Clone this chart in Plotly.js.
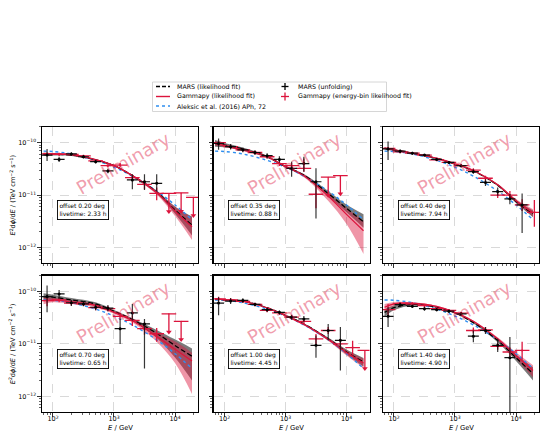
<!DOCTYPE html>
<html><head><meta charset="utf-8">
<script src="https://cdn.plot.ly/plotly-3.0.1.min.js"></script>
<style>html,body{margin:0;padding:0;background:#fff}#chart{width:540px;height:431px}</style>
</head><body><div id="chart"></div>
<script>
// ---------------- DATA ----------------
const E_FIT = [70, 100, 200, 500, 1000, 2000, 5000, 10000, 19000];            // GeV
const E_BIN = [80, 126, 200, 316, 500, 795, 1260, 2000, 3160, 5010, 7940, 12600, 20000];
const OFFSETS = ['0.20', '0.35', '0.40', '0.70', '1.00', '1.40'];
const LIVETIMES = ['2.33', '0.88', '7.94', '0.65', '4.45', '4.90'];
const ALEKSIC = [6.9e-11, 6.8e-11, 6.1e-11, 4.6e-11, 3.4e-11, 2.3e-11, 1.2e-11, 6.5e-12, 3.4e-12];

// panel 1 : offset 0.20 deg
const MARS_1    = [6.0e-11, 6.0e-11, 5.8e-11, 4.7e-11, 3.65e-11, 2.35e-11, 1.15e-11, 5.2e-12, 2.7e-12];
const MARS_LO_1 = [5.6e-11, 5.7e-11, 5.6e-11, 4.55e-11, 3.55e-11, 2.27e-11, 1.07e-11, 4.4e-12, 1.7e-12];
const MARS_HI_1 = [6.4e-11, 6.3e-11, 6.0e-11, 4.85e-11, 3.75e-11, 2.43e-11, 1.23e-11, 6.1e-12, 3.9e-12];
const GP_1      = [6.1e-11, 6.1e-11, 5.9e-11, 4.75e-11, 3.65e-11, 2.35e-11, 1.12e-11, 5.0e-12, 2.5e-12];
const GP_LO_1   = [5.8e-11, 5.85e-11, 5.7e-11, 4.6e-11, 3.55e-11, 2.25e-11, 1.03e-11, 4.0e-12, 1.4e-12];
const GP_HI_1   = [6.4e-11, 6.35e-11, 6.1e-11, 4.9e-11, 3.75e-11, 2.45e-11, 1.2e-11, 6.0e-12, 3.8e-12];
const BK_E_1  = [80, 126, 200, 316, 500, 795, 2000, 3160, 5010];
const BK_1    = [5.8e-11, 4.8e-11, 6.1e-11, 5.4e-11, 4.35e-11, 2.9e-11, 1.95e-11, 1.8e-11, 1.68e-11];
const BK_LO_1 = [4.5e-11, 4.3e-11, 5.6e-11, 5.0e-11, 4.0e-11, 2.6e-11, 1.3e-11, 1.25e-11, 1.17e-11];
const BK_HI_1 = [7.6e-11, 5.4e-11, 6.6e-11, 5.8e-11, 4.75e-11, 3.2e-11, 2.5e-11, 2.5e-11, 2.5e-11];
const RD_1    = [6.1e-11, 6.0e-11, 6.0e-11, 5.6e-11, 4.5e-11, 3.65e-11, 3.75e-11, 2.15e-11, 1.6e-11, 1.08e-11];
const RD_LO_1 = [5.7e-11, 5.6e-11, 5.7e-11, 5.3e-11, 4.2e-11, 3.35e-11, 3.4e-11, 1.85e-11, 1.3e-11, 8.0e-12];
const RD_HI_1 = [6.5e-11, 6.4e-11, 6.3e-11, 5.9e-11, 4.8e-11, 3.95e-11, 4.1e-11, 2.45e-11, 1.9e-11, 1.4e-11];
const UL_E_1 = [7940, 12600, 20000];
const UL_1   = [1.08e-11, 1.1e-11, 9.1e-12];

// panel 2 : offset 0.35 deg
const MARS_2    = [9.7e-11, 9.0e-11, 7.6e-11, 5.4e-11, 3.5e-11, 2.4e-11, 1.08e-11, 5.6e-12, 3.1e-12];
const MARS_LO_2 = [8.4e-11, 8.2e-11, 7.1e-11, 5.15e-11, 3.35e-11, 2.28e-11, 9.6e-12, 4.7e-12, 2.4e-12];
const MARS_HI_2 = [1.12e-10, 9.9e-11, 8.1e-11, 5.65e-11, 3.65e-11, 2.52e-11, 1.2e-11, 6.6e-12, 4.3e-12];
const GP_2      = [9.7e-11, 8.8e-11, 7.3e-11, 5.4e-11, 3.5e-11, 2.35e-11, 9.6e-12, 4.3e-12, 2.1e-12];
const GP_LO_2   = [8.8e-11, 8.3e-11, 6.9e-11, 5.15e-11, 3.35e-11, 2.2e-11, 7.8e-12, 2.8e-12, 7.5e-13];
const GP_HI_2   = [1.07e-10, 9.3e-11, 7.7e-11, 5.65e-11, 3.65e-11, 2.5e-11, 1.08e-11, 5.6e-12, 3.2e-12];
const BK_E_2  = [80, 126, 200, 316, 500, 795, 1260, 2000, 3160];
const BK_2    = [9.7e-11, 8.4e-11, 7.3e-11, 6.5e-11, 5.65e-11, 4.8e-11, 3.25e-11, 4.0e-11, 1.8e-11];
const BK_LO_2 = [7.3e-11, 7.4e-11, 6.6e-11, 5.8e-11, 5.0e-11, 4.2e-11, 2.25e-11, 2.8e-11, 3.6e-12];
const BK_HI_2 = [1.2e-10, 9.4e-11, 8.0e-11, 7.2e-11, 6.3e-11, 5.5e-11, 4.35e-11, 5.4e-11, 3.25e-11];
const RD_2    = [1.0e-10, 8.4e-11, 7.3e-11, 6.5e-11, 5.4e-11, 4.0e-11, 3.65e-11, 3.25e-11, 1.04e-11];
const RD_LO_2 = [9.0e-11, 7.7e-11, 6.8e-11, 6.0e-11, 5.0e-11, 3.6e-11, 3.2e-11, 2.8e-11, 5.6e-12];
const RD_HI_2 = [1.1e-10, 9.1e-11, 7.8e-11, 7.0e-11, 5.8e-11, 4.4e-11, 4.1e-11, 5.0e-11, 1.68e-11];
const UL_E_2 = [5010, 7940];
const UL_2   = [2.2e-11, 2.35e-11];

// panel 3 : offset 0.40 deg
const MARS_3    = [7.8e-11, 7.25e-11, 6.3e-11, 5.0e-11, 3.9e-11, 2.9e-11, 1.55e-11, 7.6e-12, 4.4e-12];
const MARS_LO_3 = [7.5e-11, 7.0e-11, 6.15e-11, 4.9e-11, 3.82e-11, 2.83e-11, 1.49e-11, 7.1e-12, 3.8e-12];
const MARS_HI_3 = [8.1e-11, 7.5e-11, 6.45e-11, 5.1e-11, 3.98e-11, 2.97e-11, 1.61e-11, 8.1e-12, 5.1e-12];
const GP_3      = [7.9e-11, 7.3e-11, 6.35e-11, 5.05e-11, 3.95e-11, 2.95e-11, 1.58e-11, 7.8e-12, 4.6e-12];
const GP_LO_3   = [7.6e-11, 7.05e-11, 6.2e-11, 4.95e-11, 3.87e-11, 2.88e-11, 1.52e-11, 7.2e-12, 3.9e-12];
const GP_HI_3   = [8.2e-11, 7.55e-11, 6.5e-11, 5.15e-11, 4.03e-11, 3.02e-11, 1.64e-11, 8.4e-12, 5.4e-12];
const BK_E_3  = [80, 126, 200, 316, 500, 795, 1260, 2000, 3160, 5010, 7940, 12600];
const BK_3    = [7.6e-11, 6.9e-11, 6.3e-11, 5.8e-11, 4.8e-11, 4.2e-11, 3.65e-11, 2.8e-11, 1.75e-11, 1.17e-11, 8.5e-12, 6.5e-12];
const BK_LO_3 = [4.7e-11, 6.3e-11, 5.9e-11, 5.5e-11, 4.5e-11, 3.95e-11, 3.4e-11, 2.55e-11, 1.5e-11, 9.7e-12, 6.7e-12, 1.9e-12];
const BK_HI_3 = [1.05e-10, 7.5e-11, 6.7e-11, 6.1e-11, 5.1e-11, 4.45e-11, 3.9e-11, 3.1e-11, 2.0e-11, 1.4e-11, 1.05e-11, 1.08e-11];
const RD_3    = [7.8e-11, 6.7e-11, 6.3e-11, 5.8e-11, 4.7e-11, 4.2e-11, 3.65e-11, 3.0e-11, 2.1e-11, 1.0e-11, 1.0e-11, 6.5e-12, 4.7e-12];
const RD_LO_3 = [7.3e-11, 6.3e-11, 6.0e-11, 5.5e-11, 4.45e-11, 3.95e-11, 3.4e-11, 2.75e-11, 1.85e-11, 8.8e-12, 8.2e-12, 5.0e-12, 2.5e-12];
const RD_HI_3 = [8.3e-11, 7.1e-11, 6.6e-11, 6.1e-11, 4.95e-11, 4.45e-11, 3.9e-11, 3.25e-11, 2.35e-11, 1.14e-11, 1.2e-11, 8.3e-12, 8.1e-12];
const UL_E_3 = [];
const UL_3   = [];

// panel 4 : offset 0.70 deg
const MARS_4    = [8.0e-11, 7.8e-11, 6.9e-11, 5.8e-11, 4.2e-11, 2.9e-11, 1.6e-11, 9.3e-12, 5.8e-12];
const MARS_LO_4 = [6.8e-11, 7.0e-11, 6.4e-11, 5.45e-11, 3.95e-11, 2.7e-11, 1.3e-11, 5.5e-12, 2.0e-12];
const MARS_HI_4 = [9.3e-11, 8.7e-11, 7.5e-11, 6.2e-11, 4.45e-11, 3.1e-11, 1.85e-11, 1.22e-11, 8.2e-12];
const GP_4      = [6.7e-11, 6.9e-11, 6.3e-11, 5.4e-11, 4.0e-11, 2.8e-11, 1.39e-11, 7.9e-12, 4.7e-12];
const GP_LO_4   = [5.7e-11, 6.2e-11, 5.8e-11, 5.0e-11, 3.75e-11, 2.55e-11, 1.1e-11, 4.3e-12, 1.1e-12];
const GP_HI_4   = [7.8e-11, 7.6e-11, 6.8e-11, 5.8e-11, 4.25e-11, 3.05e-11, 1.65e-11, 1.12e-11, 6.8e-12];
const BK_E_4  = [80, 126, 200, 316, 500, 795, 1260, 2000, 3160];
const BK_4    = [8.0e-11, 9.0e-11, 6.1e-11, 5.8e-11, 5.0e-11, 4.8e-11, 1.95e-11, 3.9e-11, 2.4e-11];
const BK_LO_4 = [4.0e-11, 7.2e-11, 5.3e-11, 5.2e-11, 4.4e-11, 4.2e-11, 1.0e-11, 2.8e-11, 3.4e-12];
const BK_HI_4 = [1.3e-10, 1.07e-10, 6.9e-11, 6.5e-11, 5.7e-11, 5.5e-11, 3.0e-11, 5.8e-11, 3.0e-11];
const RD_4    = [6.7e-11, 6.9e-11, 6.0e-11, 5.8e-11, 4.9e-11, 4.7e-11, 3.35e-11, 2.8e-11, 1.95e-11, 1.56e-11];
const RD_LO_4 = [5.2e-11, 6.2e-11, 5.4e-11, 5.3e-11, 4.4e-11, 4.2e-11, 2.9e-11, 2.2e-11, 1.5e-11, 1.1e-11];
const RD_HI_4 = [8.0e-11, 7.6e-11, 6.7e-11, 6.3e-11, 5.5e-11, 5.3e-11, 3.85e-11, 3.5e-11, 2.55e-11, 2.0e-11];
const UL_E_4 = [7940, 12600];
const UL_4   = [3.75e-11, 2.7e-11];

// panel 5 : offset 1.00 deg
const MARS_5    = [7.25e-11, 6.9e-11, 6.55e-11, 4.9e-11, 3.5e-11, 2.4e-11, 1.25e-11, 7.0e-12, 4.5e-12];
const MARS_LO_5 = [7.0e-11, 6.7e-11, 6.4e-11, 4.8e-11, 3.42e-11, 2.33e-11, 1.18e-11, 6.3e-12, 3.7e-12];
const MARS_HI_5 = [7.5e-11, 7.1e-11, 6.7e-11, 5.0e-11, 3.58e-11, 2.47e-11, 1.32e-11, 7.8e-12, 5.4e-12];
const GP_5      = [7.3e-11, 6.95e-11, 6.5e-11, 4.85e-11, 3.45e-11, 2.35e-11, 1.22e-11, 6.8e-12, 4.3e-12];
const GP_LO_5   = [7.05e-11, 6.75e-11, 6.35e-11, 4.75e-11, 3.37e-11, 2.28e-11, 1.15e-11, 6.0e-12, 3.5e-12];
const GP_HI_5   = [7.55e-11, 7.15e-11, 6.65e-11, 4.95e-11, 3.53e-11, 2.42e-11, 1.29e-11, 7.6e-12, 5.2e-12];
const BK_E_5  = [80, 126, 200, 316, 500, 795, 1260, 2000, 3160, 5010, 7940];
const BK_5    = [6.0e-11, 6.55e-11, 6.75e-11, 5.65e-11, 4.5e-11, 4.0e-11, 3.25e-11, 3.0e-11, 9.4e-12, 1.8e-11, 1.17e-11];
const BK_LO_5 = [3.5e-11, 5.8e-11, 6.1e-11, 5.2e-11, 4.1e-11, 3.65e-11, 2.9e-11, 2.65e-11, 5.45e-12, 1.17e-11, 3.1e-12];
const BK_HI_5 = [7.8e-11, 7.4e-11, 7.4e-11, 6.1e-11, 4.9e-11, 4.35e-11, 3.6e-11, 3.4e-11, 1.45e-11, 2.4e-11, 2.1e-11];
const RD_5    = [7.25e-11, 6.9e-11, 6.45e-11, 5.65e-11, 4.35e-11, 3.9e-11, 3.25e-11, 2.7e-11, 1.25e-11, 1.8e-11, 1.0e-11, 8.5e-12];
const RD_LO_5 = [6.6e-11, 6.3e-11, 6.0e-11, 5.25e-11, 4.0e-11, 3.6e-11, 3.0e-11, 2.4e-11, 1.0e-11, 1.55e-11, 8.0e-12, 6.0e-12];
const RD_HI_5 = [7.9e-11, 7.5e-11, 6.9e-11, 6.1e-11, 4.7e-11, 4.2e-11, 3.5e-11, 3.05e-11, 1.55e-11, 2.1e-11, 1.25e-11, 1.15e-11];
const UL_E_5 = [20000];
const UL_5   = [7.5e-12];

// panel 6 : offset 1.40 deg
const MARS_6    = [4.0e-11, 4.9e-11, 5.65e-11, 5.0e-11, 3.9e-11, 2.55e-11, 1.17e-11, 5.45e-12, 2.7e-12];
const MARS_LO_6 = [3.3e-11, 4.4e-11, 5.35e-11, 4.85e-11, 3.78e-11, 2.45e-11, 1.08e-11, 4.7e-12, 2.0e-12];
const MARS_HI_6 = [4.6e-11, 5.4e-11, 5.95e-11, 5.15e-11, 4.02e-11, 2.65e-11, 1.26e-11, 6.3e-12, 3.6e-12];
const GP_6      = [5.0e-11, 5.8e-11, 6.0e-11, 5.2e-11, 4.0e-11, 2.7e-11, 1.25e-11, 6.0e-12, 3.1e-12];
const GP_LO_6   = [4.35e-11, 5.3e-11, 5.75e-11, 5.05e-11, 3.9e-11, 2.6e-11, 1.16e-11, 5.2e-12, 2.3e-12];
const GP_HI_6   = [5.8e-11, 6.3e-11, 6.25e-11, 5.35e-11, 4.1e-11, 2.8e-11, 1.34e-11, 6.9e-12, 3.9e-12];
const BK_E_6  = [80, 126, 200, 316, 500, 795, 1260, 2000, 3160, 5010, 7940];
const BK_6    = [3.35e-11, 5.6e-11, 5.2e-11, 4.7e-11, 4.5e-11, 4.2e-11, 3.75e-11, 1.4e-11, 1.8e-11, 9.4e-12, 5.45e-12];
const BK_LO_6 = [2.1e-11, 5.1e-11, 4.85e-11, 4.3e-11, 4.2e-11, 3.9e-11, 3.45e-11, 1.08e-11, 1.55e-11, 7.0e-12, 3e-13];
const BK_HI_6 = [5.0e-11, 6.1e-11, 5.6e-11, 5.1e-11, 4.8e-11, 4.5e-11, 4.05e-11, 1.8e-11, 2.1e-11, 1.25e-11, 1.35e-11];
const RD_6    = [4.5e-11, 5.8e-11, 5.8e-11, 5.4e-11, 4.7e-11, 4.35e-11, 3.85e-11, 1.8e-11, 1.85e-11, 9.0e-12, 7.0e-12, 7.5e-12];
const RD_LO_6 = [3.5e-11, 5.4e-11, 5.4e-11, 5.0e-11, 4.4e-11, 4.05e-11, 3.6e-11, 1.6e-11, 1.65e-11, 7.7e-12, 5.8e-12, 5.0e-12];
const RD_HI_6 = [5.8e-11, 6.2e-11, 6.2e-11, 5.8e-11, 5.0e-11, 4.65e-11, 4.1e-11, 2.05e-11, 2.1e-11, 1.05e-11, 8.5e-12, 1.1e-11];
const UL_E_6 = [];
const UL_6   = [];

const X_TICKS = [100, 1000, 10000];
const X_TICKTEXT = ['10<sup>2</sup>', '10<sup>3</sup>', '10<sup>4</sup>'];
const Y_TICKS = [1e-12, 1e-11, 1e-10];
const Y_TICKTEXT = ['10<sup>−12</sup>', '10<sup>−11</sup>', '10<sup>−10</sup>'];
const LEGEND_LABELS = ['MARS (likelihood fit)', 'Gammapy (likelihood fit)', 'Aleksic et al. (2016) APh, 72',
                       'MARS (unfolding)', 'Gammapy (energy-bin likelihood fit)'];

// ---------------- BUILD ----------------
const PANELS = [
  {mars: MARS_1, mLo: MARS_LO_1, mHi: MARS_HI_1, gp: GP_1, gLo: GP_LO_1, gHi: GP_HI_1, bkE: BK_E_1, bk: BK_1, bkLo: BK_LO_1, bkHi: BK_HI_1, rd: RD_1, rdLo: RD_LO_1, rdHi: RD_HI_1, ulE: UL_E_1, ul: UL_1},
  {mars: MARS_2, mLo: MARS_LO_2, mHi: MARS_HI_2, gp: GP_2, gLo: GP_LO_2, gHi: GP_HI_2, bkE: BK_E_2, bk: BK_2, bkLo: BK_LO_2, bkHi: BK_HI_2, rd: RD_2, rdLo: RD_LO_2, rdHi: RD_HI_2, ulE: UL_E_2, ul: UL_2},
  {mars: MARS_3, mLo: MARS_LO_3, mHi: MARS_HI_3, gp: GP_3, gLo: GP_LO_3, gHi: GP_HI_3, bkE: BK_E_3, bk: BK_3, bkLo: BK_LO_3, bkHi: BK_HI_3, rd: RD_3, rdLo: RD_LO_3, rdHi: RD_HI_3, ulE: UL_E_3, ul: UL_3},
  {mars: MARS_4, mLo: MARS_LO_4, mHi: MARS_HI_4, gp: GP_4, gLo: GP_LO_4, gHi: GP_HI_4, bkE: BK_E_4, bk: BK_4, bkLo: BK_LO_4, bkHi: BK_HI_4, rd: RD_4, rdLo: RD_LO_4, rdHi: RD_HI_4, ulE: UL_E_4, ul: UL_4},
  {mars: MARS_5, mLo: MARS_LO_5, mHi: MARS_HI_5, gp: GP_5, gLo: GP_LO_5, gHi: GP_HI_5, bkE: BK_E_5, bk: BK_5, bkLo: BK_LO_5, bkHi: BK_HI_5, rd: RD_5, rdLo: RD_LO_5, rdHi: RD_HI_5, ulE: UL_E_5, ul: UL_5},
  {mars: MARS_6, mLo: MARS_LO_6, mHi: MARS_HI_6, gp: GP_6, gLo: GP_LO_6, gHi: GP_HI_6, bkE: BK_E_6, bk: BK_6, bkLo: BK_LO_6, bkHi: BK_HI_6, rd: RD_6, rdLo: RD_LO_6, rdHi: RD_HI_6, ulE: UL_E_6, ul: UL_6},
];

const W = 540, H = 431;
const FONT = 'DejaVu Sans, Liberation Sans, sans-serif';
const CRIMSON = '#dc143c';
const BLUE = '#2f8ff0';
const COL_PX = [[42, 198], [213.5, 369.5], [383, 539]];
const ROW_PX = [[126.7, 263.3], [275.5, 412]];
const px = x => x / W;
const py = y => 1 - y / H;
const BK_HW = 0.09, RD_HW = 0.12, UL_DROP = 0.45;

const minorVals = (lo, hi) => { const v = []; for (let d = lo; d <= hi; d++) for (let m = 2; m <= 9; m++) v.push(m * Math.pow(10, d)); return v; };
const MINOR_X = minorVals(1, 4), MINOR_Y = minorVals(-13, -10);

const traces = [];
const layout = {
  width: W, height: H, margin: {l: 0, r: 0, t: 0, b: 0},
  paper_bgcolor: '#fff', plot_bgcolor: '#fff', showlegend: false,
  font: {family: FONT, size: 6.5, color: '#000'},
  annotations: [], shapes: []
};

const xErr = (E, hw, color, th) => ({type: 'data', symmetric: false,
  array: E.map(e => e * (Math.pow(10, hw) - 1)), arrayminus: E.map(e => e * (1 - Math.pow(10, -hw))),
  color: color, thickness: th, width: 0});
const yErr = (v, lo, hi, color, th) => ({type: 'data', symmetric: false,
  array: v.map((y, i) => hi[i] - y), arrayminus: v.map((y, i) => y - lo[i]),
  color: color, thickness: th, width: 0});

PANELS.forEach((p, i) => {
  const r = Math.floor(i / 3), c = i % 3;
  const sfx = i ? String(i + 1) : '';
  const xa = 'x' + sfx, ya = 'y' + sfx;
  const base = {xaxis: xa, yaxis: ya, hoverinfo: 'skip', showlegend: false};
  const sp = {shape: 'spline', smoothing: 1};

  traces.push({...base, x: E_FIT, y: p.mLo, mode: 'lines', line: {...sp, width: 0}});
  traces.push({...base, x: E_FIT, y: p.mHi, mode: 'lines', line: {...sp, width: 0}, fill: 'tonexty', fillcolor: 'rgba(0,0,0,0.52)'});
  traces.push({...base, x: E_FIT, y: p.gLo, mode: 'lines', line: {...sp, width: 0}});
  traces.push({...base, x: E_FIT, y: p.gHi, mode: 'lines', line: {...sp, width: 0}, fill: 'tonexty', fillcolor: 'rgba(220,20,60,0.45)'});
  traces.push({...base, x: E_FIT, y: ALEKSIC, mode: 'lines', line: {...sp, color: BLUE, width: 1.4, dash: 'dot'}});
  traces.push({...base, x: E_FIT, y: p.mars, mode: 'lines', line: {...sp, color: '#000', width: 1.3, dash: '5px,2.5px'}});
  traces.push({...base, x: E_FIT, y: p.gp, mode: 'lines', line: {...sp, color: CRIMSON, width: 1.3}});

  const rdE = E_BIN.slice(0, p.rd.length);
  traces.push({...base, x: rdE, y: p.rd, mode: 'markers', marker: {size: 2, color: CRIMSON},
    error_x: xErr(rdE, RD_HW, CRIMSON, 1.3), error_y: yErr(p.rd, p.rdLo, p.rdHi, CRIMSON, 1.3)});
  if (p.ul.length) {
    traces.push({...base, x: p.ulE, y: p.ul, mode: 'markers', marker: {size: 1, color: CRIMSON},
      error_x: xErr(p.ulE, RD_HW, CRIMSON, 1.3),
      error_y: {type: 'data', symmetric: false, array: p.ul.map(() => 0), arrayminus: p.ul.map(v => v * (1 - UL_DROP)), color: CRIMSON, thickness: 1.3, width: 0}});
    traces.push({...base, x: p.ulE, y: p.ul.map(v => v * UL_DROP), mode: 'markers',
      marker: {symbol: 'triangle-down', size: 5, color: CRIMSON}});
  }
  traces.push({...base, x: p.bkE, y: p.bk, mode: 'markers', marker: {size: 3, color: '#000'},
    error_x: xErr(p.bkE, BK_HW, '#111', 1.2), error_y: yErr(p.bk, p.bkLo, p.bkHi, 'rgba(20,20,20,0.85)', 1.2)});

  const axCommon = {type: 'log', showline: true, mirror: true, linecolor: '#000', linewidth: 1.1,
    ticks: 'outside', ticklen: 3.5, tickwidth: 0.8, tickcolor: '#000', zeroline: false,
    showgrid: true, gridcolor: '#d0d0d0', gridwidth: 0.8, griddash: 'dash',
    tickfont: {family: FONT, size: 6.5, color: '#000'}, tickmode: 'array', fixedrange: true, automargin: false};
  layout['xaxis' + sfx] = {...axCommon, anchor: ya, domain: [px(COL_PX[c][0]), px(COL_PX[c][1])],
    range: [1.82, 4.377], tickvals: X_TICKS, ticktext: X_TICKTEXT, showticklabels: r === 1, ticklabelstandoff: -3,
    minor: {tickmode: 'array', tickvals: MINOR_X, ticks: 'outside', ticklen: 2, tickwidth: 0.6, tickcolor: '#000', showgrid: false}};
  layout['yaxis' + sfx] = {...axCommon, anchor: xa, domain: [py(ROW_PX[r][1]), py(ROW_PX[r][0])],
    range: [-12.3, -9.695], tickvals: Y_TICKS, ticktext: Y_TICKTEXT, showticklabels: c === 0,
    minor: {tickmode: 'array', tickvals: MINOR_Y, ticks: 'outside', ticklen: 2, tickwidth: 0.6, tickcolor: '#000', showgrid: false}};

  layout.annotations.push({xref: xa + ' domain', yref: ya + ' domain', x: 0.52, y: 0.73, xanchor: 'center', yanchor: 'middle',
    showarrow: false, text: 'Preliminary', textangle: -30, font: {family: FONT, size: 18.5, color: 'rgba(220,20,60,0.42)'}});
  layout.annotations.push({xref: xa + ' domain', yref: ya + ' domain', x: 0.095, y: 0.39, xanchor: 'left', yanchor: 'middle',
    showarrow: false, align: 'left', text: 'offset ' + OFFSETS[i] + ' deg<br>livetime: ' + LIVETIMES[i] + ' h',
    font: {family: FONT, size: 6, color: '#000'}, bgcolor: 'rgba(255,255,255,0.9)', bordercolor: '#000', borderwidth: 0.9, borderpad: 1.5});

  if (c === 0) {
    layout.annotations.push({xref: 'paper', yref: 'paper', x: px(12.5), y: py((ROW_PX[r][0] + ROW_PX[r][1]) / 2),
      xanchor: 'center', yanchor: 'middle', showarrow: false, textangle: -90, font: {family: FONT, size: 6.6, color: '#000'},
      text: '<i>E</i><sup>2</sup>d<i>ϕ</i>/d<i>E</i> / (TeV cm<sup>−2</sup> s<sup>−1</sup>)'});
  }
  if (r === 1) {
    layout.annotations.push({xref: 'paper', yref: 'paper', x: px((COL_PX[c][0] + COL_PX[c][1]) / 2), y: py(427.5),
      xanchor: 'center', yanchor: 'middle', showarrow: false, font: {family: FONT, size: 6.8, color: '#000'}, text: '<i>E</i> / GeV'});
  }
});

// ---------------- LEGEND (manual) ----------------
const LEG_ROWS = [86.5, 96.5, 106];
layout.shapes.push({type: 'rect', xref: 'paper', yref: 'paper', x0: px(152.5), x1: px(386.5), y0: py(111.5), y1: py(82),
  line: {color: '#cccccc', width: 0.8}, fillcolor: 'rgba(255,255,255,0.9)'});
const hl = (y, color, dash) => ({type: 'line', xref: 'paper', yref: 'paper', x0: px(156), x1: px(170), y0: py(y), y1: py(y), line: {color: color, width: 1.4, dash: dash}});
layout.shapes.push(hl(LEG_ROWS[0], '#000', '4px,2px'));
layout.shapes.push(hl(LEG_ROWS[1], CRIMSON, 'solid'));
layout.shapes.push(hl(LEG_ROWS[2], BLUE, 'dot'));
const cross = (y, color, hw, hh) => [
  {type: 'line', xref: 'paper', yref: 'paper', x0: px(285 - hw), x1: px(285 + hw), y0: py(y), y1: py(y), line: {color: color, width: 1.3}},
  {type: 'line', xref: 'paper', yref: 'paper', x0: px(285), x1: px(285), y0: py(y - hh), y1: py(y + hh), line: {color: color, width: 1.3}}];
layout.shapes.push(...cross(LEG_ROWS[0], '#000', 3.5, 3.5));
layout.shapes.push(...cross(LEG_ROWS[1], CRIMSON, 4, 4));
const legPos = [[175, LEG_ROWS[0]], [175, LEG_ROWS[1]], [175, LEG_ROWS[2]], [296, LEG_ROWS[0]], [296, LEG_ROWS[1]]];
LEGEND_LABELS.forEach((t, k) => layout.annotations.push({xref: 'paper', yref: 'paper', x: px(legPos[k][0]), y: py(legPos[k][1]),
  xanchor: 'left', yanchor: 'middle', showarrow: false, text: t, font: {family: FONT, size: 6.3, color: '#000'}}));

Plotly.newPlot('chart', traces, layout, {staticPlot: true, displayModeBar: false});
</script>
</body></html>
